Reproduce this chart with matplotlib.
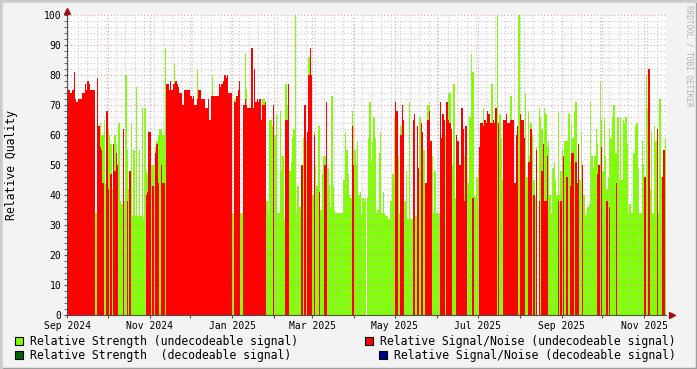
import datetime as dt
import matplotlib
matplotlib.use("Agg")
import matplotlib.pyplot as plt
import matplotlib.dates as mdates
from matplotlib.patches import Rectangle
from matplotlib.ticker import MultipleLocator, FuncFormatter

# daily values, starting 2024-09-01
start = dt.date(2024, 9, 1)

strength_undec = [
    76, 73, 0, 0, 0, 0, 0, 0, 0, 0,
    0, 0, 0, 0, 0, 0, 0, 0, 0, 0,
    0, 34, 0, 0, 64, 60, 60, 65, 44, 0,
    62, 60, 57, 42, 0, 60, 57, 0, 64, 38,
    37, 0, 38, 80, 55, 42, 0, 64, 33, 55,
    33, 76, 33, 55, 33, 69, 32, 69, 48, 47,
    33, 0, 50, 50, 50, 56, 58, 60, 62, 62,
    60, 60, 89, 0, 0, 0, 0, 0, 0, 84,
    0, 0, 0, 0, 0, 0, 0, 0, 0, 0,
    0, 0, 0, 0, 0, 0, 82, 0, 0, 0,
    0, 0, 0, 0, 0, 0, 0, 80, 0, 0,
    0, 0, 0, 0, 0, 0, 0, 0, 0, 0,
    0, 0, 34, 72, 72, 0, 0, 0, 34, 34,
    0, 87, 75, 0, 0, 0, 0, 0, 0, 0,
    0, 0, 0, 0, 72, 72, 0, 38, 34, 65,
    65, 63, 34, 60, 67, 34, 34, 68, 48, 53,
    32, 77, 70, 70, 48, 51, 59, 62, 100, 34,
    43, 36, 36, 36, 59, 58, 58, 61, 86, 0,
    0, 40, 61, 50, 43, 63, 63, 35, 47, 53,
    53, 53, 49, 43, 36, 73, 43, 35, 34, 34,
    34, 34, 34, 34, 45, 61, 55, 47, 40, 39,
    68, 63, 55, 50, 58, 40, 41, 34, 39, 38,
    39, 39, 59, 71, 51, 58, 66, 59, 34, 35,
    54, 61, 34, 41, 34, 33, 33, 32, 38, 38,
    47, 66, 0, 0, 53, 34, 63, 57, 57, 38,
    48, 32, 71, 32, 32, 0, 0, 33, 58, 0,
    66, 0, 55, 55, 44, 44, 70, 71, 53, 53,
    34, 48, 34, 34, 34, 66, 0, 0, 60, 60,
    0, 74, 74, 52, 50, 77, 39, 0, 0, 0,
    0, 0, 43, 53, 48, 44, 44, 66, 87, 81,
    40, 39, 46, 49, 0, 0, 0, 69, 0, 0,
    0, 0, 0, 77, 0, 0, 0, 100, 34, 67,
    59, 45, 0, 0, 0, 0, 0, 73, 0, 0,
    0, 0, 0, 100, 0, 0, 0, 0, 74, 46,
    68, 53, 64, 60, 45, 39, 56, 0, 69, 66,
    62, 0, 69, 67, 56, 58, 40, 34, 49, 51,
    45, 40, 68, 40, 48, 55, 53, 58, 58, 58,
    67, 51, 64, 59, 68, 71, 44, 57, 45, 61,
    43, 40, 33, 34, 36, 37, 71, 53, 49, 53,
    62, 57, 0, 78, 65, 48, 66, 53, 42, 46,
    62, 59, 66, 70, 54, 54, 66, 45, 66, 45,
    65, 64, 66, 57, 34, 37, 34, 34, 54, 63,
    64, 49, 34, 34, 58, 50, 34, 80, 69, 42,
    42, 61, 34, 63, 58, 0, 34, 72, 46, 43, 55, 59,
]

snr_undec = [
    75, 75, 74, 74, 75, 81, 72, 71, 72, 72,
    72, 74, 74, 77, 75, 78, 77, 75, 75, 75,
    75, 0, 79, 63, 56, 55, 44, 0, 0, 68,
    42, 0, 47, 0, 57, 48, 54, 50, 0, 0,
    0, 62, 0, 0, 38, 0, 48, 0, 0, 0,
    0, 0, 0, 0, 0, 0, 0, 0, 40, 41,
    61, 61, 0, 43, 0, 54, 57, 44, 0, 50,
    44, 44, 0, 77, 77, 75, 78, 75, 77, 77,
    78, 77, 76, 74, 74, 70, 75, 75, 75, 75,
    75, 73, 72, 73, 70, 70, 72, 75, 75, 72,
    72, 72, 69, 69, 72, 65, 73, 73, 73, 73,
    73, 73, 77, 76, 77, 78, 80, 79, 80, 74,
    74, 74, 0, 71, 71, 73, 75, 78, 0, 0,
    70, 72, 70, 69, 69, 69, 89, 69, 82, 71,
    72, 71, 72, 65, 70, 70, 71, 0, 0, 0,
    0, 0, 70, 0, 0, 0, 0, 0, 0, 0,
    0, 65, 65, 77, 0, 0, 0, 0, 0, 0,
    0, 0, 0, 50, 0, 70, 0, 61, 80, 89,
    80, 0, 60, 0, 0, 0, 41, 0, 0, 0,
    50, 71, 0, 0, 0, 0, 0, 0, 0, 0,
    0, 0, 0, 0, 0, 0, 0, 0, 0, 0,
    63, 50, 0, 0, 0, 0, 0, 0, 0, 0,
    0, 0, 0, 0, 0, 0, 0, 0, 0, 0,
    0, 0, 0, 0, 0, 0, 0, 0, 0, 0,
    0, 0, 71, 68, 0, 0, 60, 70, 65, 0,
    0, 0, 0, 0, 0, 65, 67, 0, 63, 49,
    0, 64, 61, 0, 44, 44, 65, 68, 58, 0,
    0, 0, 0, 0, 0, 71, 59, 67, 65, 0,
    71, 65, 64, 62, 0, 0, 0, 60, 58, 50,
    50, 69, 62, 38, 63, 0, 0, 0, 0, 39,
    0, 0, 0, 0, 56, 64, 64, 63, 65, 64,
    68, 67, 64, 64, 65, 64, 69, 0, 64, 0,
    0, 0, 65, 65, 67, 64, 64, 65, 65, 65,
    44, 60, 63, 0, 67, 65, 65, 59, 0, 0,
    51, 51, 62, 0, 40, 0, 55, 0, 38, 0,
    48, 57, 38, 38, 53, 0, 0, 0, 0, 0,
    0, 0, 38, 0, 38, 0, 53, 0, 46, 46,
    0, 43, 54, 54, 0, 51, 44, 57, 0, 0,
    50, 0, 0, 0, 0, 0, 0, 0, 0, 0,
    0, 47, 50, 0, 56, 0, 0, 0, 38, 0,
    36, 0, 0, 0, 0, 44, 0, 0, 0, 0,
    0, 0, 0, 0, 0, 0, 0, 0, 0, 0,
    0, 0, 0, 0, 0, 0, 46, 0, 0, 82,
    0, 0, 0, 0, 0, 62, 0, 0, 0, 46, 55, 0,
]

days = [start + dt.timedelta(days=i) for i in range(len(strength_undec))]
end = start + dt.timedelta(days=len(strength_undec))

legend_items = [
    ("Relative Strength (undecodeable signal)", "#80FF00"),
    ("Relative Signal/Noise (undecodeable signal)", "#FF0000"),
    ("Relative Strength  (decodeable signal)", "#006400"),
    ("Relative Signal/Noise (decodeable signal)", "#00008B"),
]

plt.rcParams["font.family"] = "DejaVu Sans Mono"

W, H = 697, 369
fig = plt.figure(figsize=(W / 100, H / 100), dpi=100)
fig.patch.set_facecolor("#F3F3F3")

ax = fig.add_axes([67 / W, (H - 315) / H, 599 / W, 300 / H])
ax.set_facecolor("white")

ax.bar(days, strength_undec, width=1.0, align="edge", color="#80FF00",
       linewidth=0, antialiased=False, zorder=2)
ax.bar(days, snr_undec, width=1.0, align="edge", color="#FF0000",
       linewidth=0, antialiased=False, zorder=3)

ax.set_xlim(start, end)
ax.set_ylim(0, 100)

# grid like rrdtool
ax.yaxis.set_major_locator(MultipleLocator(10))
ax.yaxis.set_minor_locator(MultipleLocator(2))
ax.xaxis.set_major_locator(mdates.MonthLocator())
ax.xaxis.set_minor_locator(mdates.WeekdayLocator(byweekday=mdates.MO))
ax.xaxis.set_major_formatter(FuncFormatter(
    lambda v, p: mdates.num2date(v).strftime("%b %Y") if mdates.num2date(v).month % 2 == 1 else ""))

ax.grid(which="minor", color="#C8C8C8", linestyle=(0, (1, 2)), linewidth=0.8, zorder=4)
ax.grid(which="major", color="#D9A0A0", linestyle=(0, (1, 2)), linewidth=0.8, zorder=4)
ax.set_axisbelow(False)

for s in ["top", "right"]:
    ax.spines[s].set_visible(False)
for s in ["left", "bottom"]:
    ax.spines[s].set_color("#505050")
    ax.spines[s].set_zorder(6)

ax.tick_params(which="both", length=2, color="#505050", labelsize=7, pad=2)
ax.tick_params(axis="x", which="minor", length=0)

# y label placed like rrdtool's vertical label
fig.text(12 / W, 1 - 165 / H, "Relative Quality", rotation=90,
         fontsize=8.3, ha="center", va="center")

# axis arrows
ax.plot([0], [1.012], marker="^", markersize=4, color="#A01010",
        transform=ax.transAxes, clip_on=False, zorder=7)
ax.plot([1.01], [0], marker=">", markersize=4, color="#A01010",
        transform=ax.transAxes, clip_on=False, zorder=7)

# watermark
fig.text(689 / W, 1 - 5 / H, "RRDTOOL / TOBI OETIKER", rotation=270,
         fontsize=5.5, color="#B0B0B0", ha="center", va="top")

# legend
legend_pos = [(15, 341), (365, 341), (15, 355), (379, 355)]
for (label, color), (lx, ly) in zip(legend_items, legend_pos):
    fig.patches.append(Rectangle((lx / W, 1 - (ly + 4) / H), 8 / W, 8 / H,
                                 transform=fig.transFigure, facecolor=color,
                                 edgecolor="black", linewidth=0.8))
    fig.text((lx + 15) / W, 1 - ly / H, label, fontsize=8.3, va="center", ha="left")

# rrdtool-ish frame
fig.patches.append(Rectangle((0, 0), 1, 1, transform=fig.transFigure, fill=False,
                             edgecolor="#9E9E9E", linewidth=2.5))
fig.add_artist(plt.Line2D([0, 1], [1 - 1 / H, 1 - 1 / H], color="#CFCFCF", linewidth=2))
fig.add_artist(plt.Line2D([1 / W, 1 / W], [0, 1], color="#CFCFCF", linewidth=2))

fig.savefig("out.png", dpi=100, facecolor=fig.get_facecolor())
